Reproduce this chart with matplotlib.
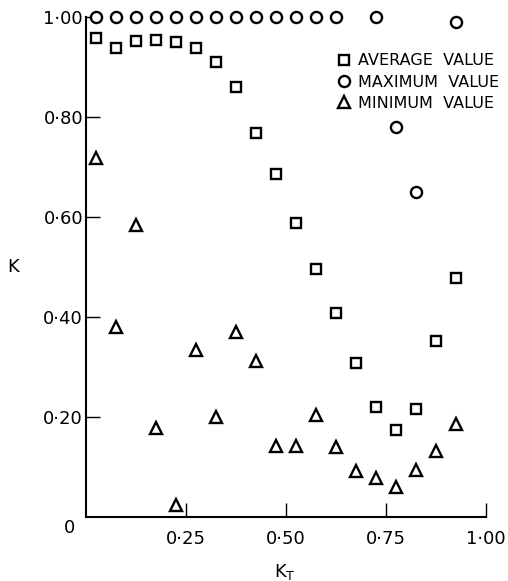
import matplotlib
matplotlib.use("Agg")
import matplotlib.pyplot as plt
import numpy as np

# K_T class midpoints
kt_avg = [0.025, 0.075, 0.125, 0.175, 0.225, 0.275, 0.325, 0.375, 0.425, 0.475,
          0.525, 0.575, 0.625, 0.675, 0.725, 0.775, 0.825, 0.875, 0.925]
k_avg = [0.958, 0.938, 0.952, 0.954, 0.950, 0.938, 0.910, 0.860, 0.768, 0.686,
         0.588, 0.496, 0.408, 0.308, 0.220, 0.174, 0.216, 0.352, 0.478]

kt_max = [0.025, 0.075, 0.125, 0.175, 0.225, 0.275, 0.325, 0.375, 0.425, 0.475,
          0.525, 0.575, 0.625, 0.725, 0.775, 0.825, 0.925]
k_max = [1.0, 1.0, 1.0, 1.0, 1.0, 1.0, 1.0, 1.0, 1.0, 1.0,
         1.0, 1.0, 1.0, 1.0, 0.780, 0.650, 0.990]

kt_min = [0.025, 0.075, 0.125, 0.175, 0.225, 0.275, 0.325, 0.375, 0.425, 0.475,
          0.525, 0.575, 0.625, 0.675, 0.725, 0.775, 0.825, 0.875, 0.925]
k_min = [0.718, 0.380, 0.584, 0.178, 0.024, 0.334, 0.200, 0.370, 0.312, 0.142,
         0.142, 0.204, 0.140, 0.092, 0.078, 0.060, 0.094, 0.132, 0.186]

x_ticks = [0.25, 0.50, 0.75, 1.00]
y_ticks = [0.20, 0.40, 0.60, 0.80, 1.00]

matplotlib.rcParams.update({'font.size': 13, 'font.family': 'DejaVu Sans'})
fig = plt.figure(figsize=(5.08, 5.81), dpi=100)
ax = fig.add_axes([0.169, 0.110, 0.787, 0.861])

mk = dict(linestyle="none", markerfacecolor="white", markeredgecolor="black",
          markeredgewidth=1.7, clip_on=False)
ax.plot(kt_avg, k_avg, marker="s", markersize=7.5, label="AVERAGE  VALUE", **mk)
ax.plot(kt_max, k_max, marker="o", markersize=8, label="MAXIMUM  VALUE", **mk)
ax.plot(kt_min, k_min, marker="^", markersize=8, label="MINIMUM  VALUE", **mk)

ax.set_xlim(0, 1.0)
ax.set_ylim(0, 1.0)
for s in ["top", "right"]:
    ax.spines[s].set_visible(False)
for s in ["left", "bottom"]:
    ax.spines[s].set_linewidth(1.5)

ax.set_xticks(x_ticks)
ax.set_xticklabels([("%.2f" % v).replace(".", "\u00b7") for v in x_ticks])
ax.set_yticks(y_ticks)
ax.set_yticklabels([("%.2f" % v).replace(".", "\u00b7") for v in y_ticks])
ax.tick_params(axis="both", direction="in", length=10, width=1.0)
ax.tick_params(axis="x", pad=9)
ax.tick_params(axis="y", pad=2)
ax.text(-0.04, -0.022, "0", ha="center", va="center", fontsize=13)

fig.text(0.026, 0.54, "K", ha="center", va="center", fontsize=13)
fig.text(0.56, 0.015, r"K$_\mathregular{T}$", ha="center", va="center", fontsize=13)

ax.legend(loc="upper left", bbox_to_anchor=(0.61, 0.94), frameon=False,
          fontsize=11.5, handletextpad=0.4, labelspacing=0.4, borderaxespad=0,
          handlelength=1.0)

plt.savefig("out.png", dpi=100)
